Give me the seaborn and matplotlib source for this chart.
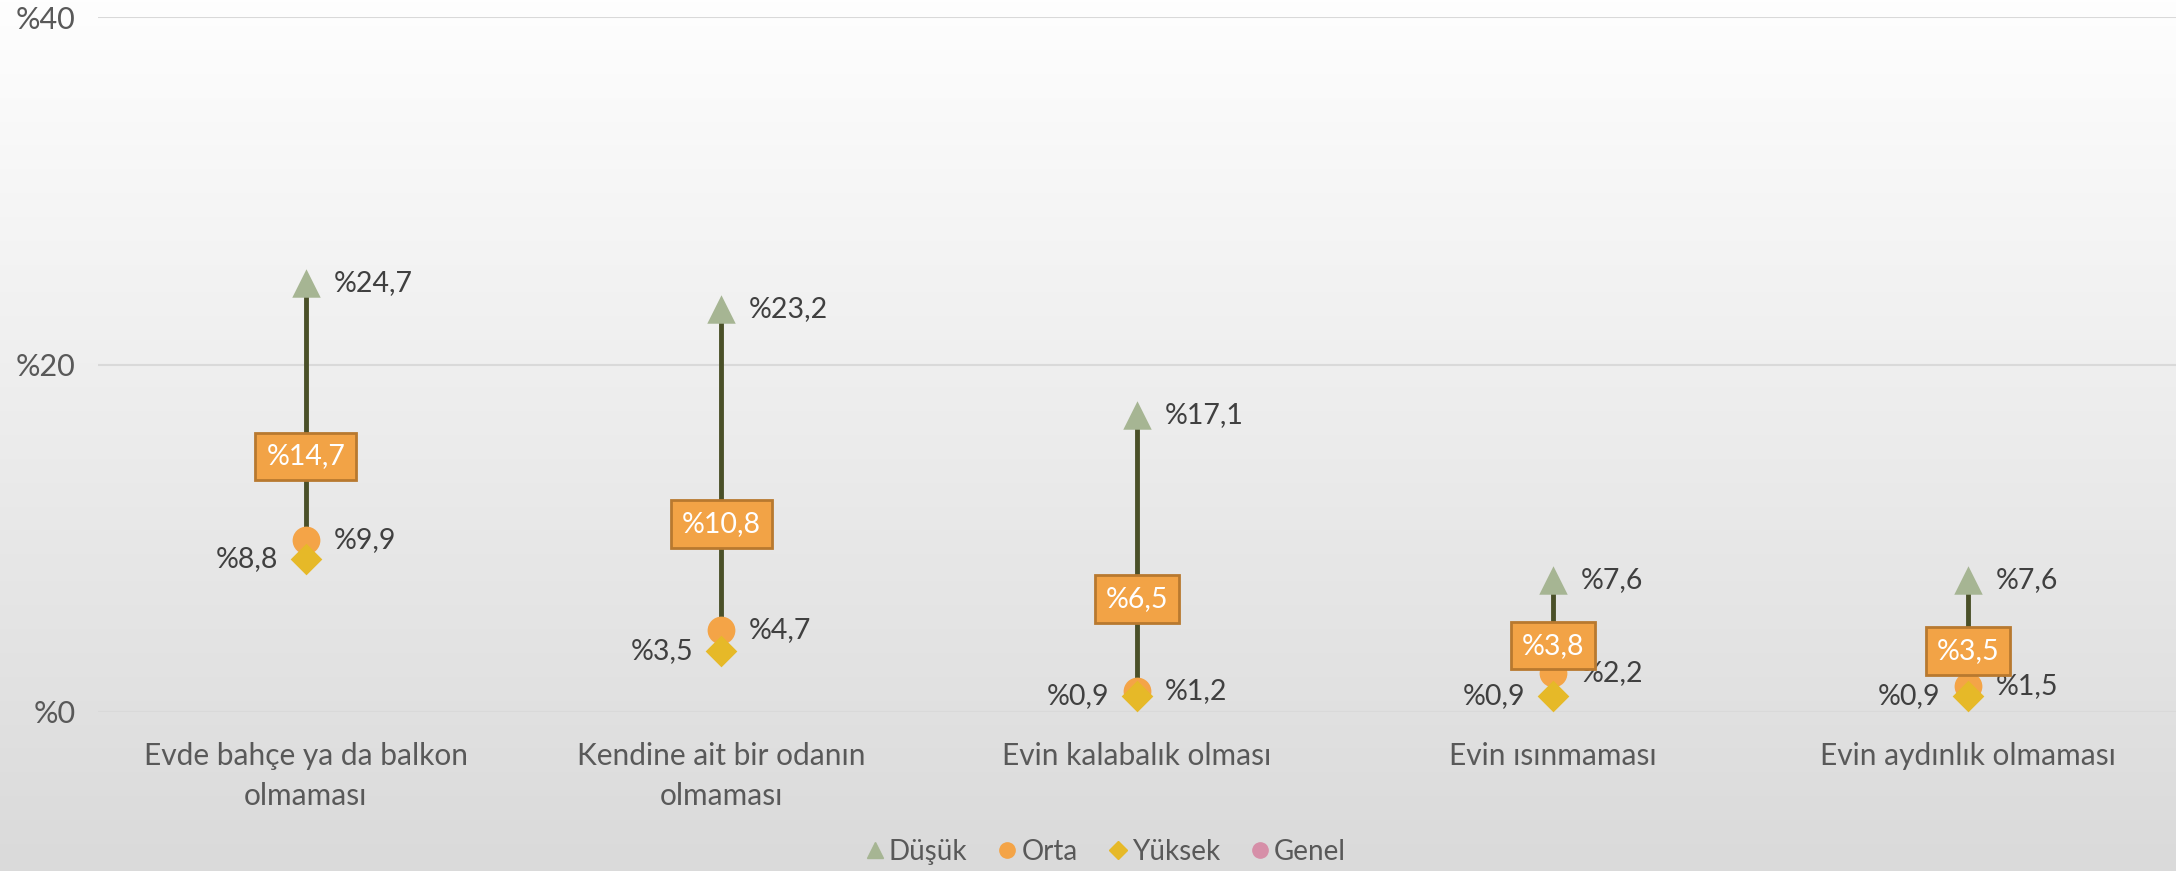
import matplotlib
matplotlib.use("Agg")
import matplotlib.pyplot as plt
from matplotlib.lines import Line2D
import seaborn as sns
import numpy as np
import pandas as pd

# Chart data
categories = [
    "Evde bahçe ya da balkon\nolmaması",
    "Kendine ait bir odanın\nolmaması",
    "Evin kalabalık olması",
    "Evin ısınmaması",
    "Evin aydınlık olmaması",
]
dusuk = [24.7, 23.2, 17.1, 7.6, 7.6]
orta = [9.9, 4.7, 1.2, 2.2, 1.5]
yuksek = [8.8, 3.5, 0.9, 0.9, 0.9]
genel = [14.7, 10.8, 6.5, 3.8, 3.5]
y_ticks = [0, 20, 40]

series_names = ["Düşük", "Orta", "Yüksek", "Genel"]
colors = {"Düşük": "#a6b593", "Orta": "#f4a447", "Yüksek": "#e6b928", "Genel": "#d68fa8"}
markers = {"Düşük": "^", "Orta": "o", "Yüksek": "D", "Genel": "o"}

def fmt(v):
    return "%" + f"{v:.1f}".replace(".", ",")

sns.set_theme(style="white")
plt.rcParams["font.family"] = ["Lato", "DejaVu Sans"]

df = pd.DataFrame({
    "x": list(range(len(categories))) * 3,
    "value": dusuk + orta + yuksek,
    "grup": ["Düşük"] * 5 + ["Orta"] * 5 + ["Yüksek"] * 5,
})

fig = plt.figure(figsize=(21.76, 8.71), dpi=100)

# gradient background
bg = fig.add_axes([0, 0, 1, 1], zorder=-10)
grad = np.linspace(0, 1, 256).reshape(-1, 1)
bg.imshow(grad, aspect="auto", cmap=matplotlib.colors.LinearSegmentedColormap.from_list(
    "bg", ["#fefefe", "#dadada"]), extent=[0, 1, 0, 1], origin="upper")
bg.axis("off")

ax = fig.add_axes([0.045, 0.183, 0.955, 0.797])
ax.patch.set_alpha(0)

# high-low lines
x_idx = np.arange(len(categories))
lows = np.minimum(np.minimum(orta, yuksek), dusuk)
highs = np.maximum(np.maximum(orta, yuksek), dusuk)
ax.vlines(x_idx, lows, highs, color="#4a5028", linewidth=3.5, zorder=2)

sizes = {"Düşük": 420, "Orta": 400, "Yüksek": 260}
for name in ["Düşük", "Orta", "Yüksek"]:
    sub = df[df["grup"] == name]
    sns.scatterplot(data=sub, x="x", y="value", marker=markers[name], color=colors[name],
                    s=sizes[name], linewidth=0, ax=ax, zorder=3, legend=False)

lbl = dict(fontsize=20.5, color="#404040", va="center", textcoords="offset points")
for i in x_idx:
    ax.annotate(fmt(dusuk[i]), (i, dusuk[i]), xytext=(20, 0), ha="left", **lbl)
    ax.annotate(fmt(orta[i]), (i, orta[i]), xytext=(20, 0), ha="left", **lbl)
    ax.annotate(fmt(yuksek[i]), (i, yuksek[i]), xytext=(-20, 0), ha="right", **lbl)
    ax.text(i, genel[i], fmt(genel[i]), ha="center", va="center", fontsize=20.5, color="white",
            zorder=5, bbox=dict(boxstyle="square,pad=0.38", facecolor="#f2a346",
                                edgecolor="#b8792f", linewidth=2))

ax.set_xlim(-0.5, len(categories) - 0.5)
ax.set_ylim(0, 40)
ax.set_yticks(y_ticks)
ax.set_yticklabels([fmt(v).replace(",0", "") for v in y_ticks], fontsize=22, color="#595959")
ax.set_xticks(x_idx)
ax.set_xticklabels(categories, fontsize=21.5, color="#595959", linespacing=1.5)
ax.tick_params(axis="y", length=0, pad=16)
ax.tick_params(axis="x", length=0, pad=22)
ax.grid(axis="y", color="#d9d9d9", linewidth=1.5)
ax.set_axisbelow(True)
ax.set_xlabel("")
ax.set_ylabel("")
for s in ax.spines.values():
    s.set_visible(False)

handles = [Line2D([], [], linestyle="none", marker=markers[n], color=colors[n],
                  markersize=11 if n != "Yüksek" else 9) for n in series_names]
fig.legend(handles, series_names, loc="lower center", bbox_to_anchor=(0.508, -0.022), ncol=4,
           frameon=False, fontsize=20, handlelength=0.7, handletextpad=0.15,
           columnspacing=1.1, labelcolor="#595959")

fig.savefig("out.png", dpi=100)
